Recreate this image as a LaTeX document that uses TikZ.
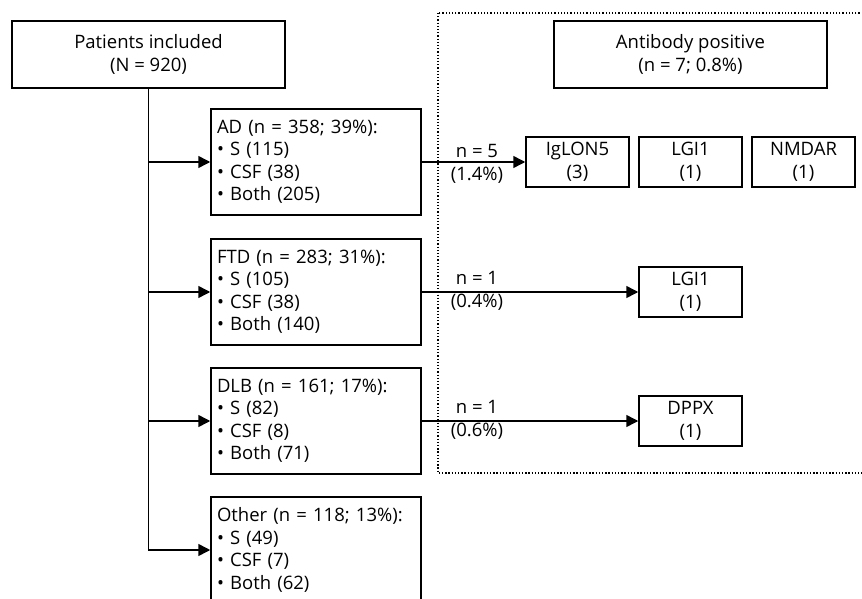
\documentclass[tikz,border=0pt]{standalone}
\usepackage{fontspec}
\setmainfont{Open Sans}
\usetikzlibrary{arrows.meta}
\begin{document}
\begin{tikzpicture}[x=1pt,y=-1pt,
  txt/.style={font={\fontsize{18.5}{22.5}\selectfont}},
  headbox/.style={draw, line width=1.5pt, txt, inner sep=0pt, minimum width=273pt, minimum height=67pt, align=center},
  catbox/.style={draw, line width=1.5pt, txt, inner xsep=6pt, inner ysep=0pt, text width=198pt, minimum height=106pt, align=left},
  abbox/.style={draw, line width=1.5pt, txt, inner sep=0pt, minimum width=103pt, minimum height=50pt, align=center},
  lab/.style={txt, align=center, inner sep=0pt},
  conn/.style={line width=1.5pt},
  arr/.style={conn, -{Triangle[length=12pt,width=12pt]}},
  region/.style={line width=1.1pt, dash pattern=on 1.3pt off 1.9pt}
]
\useasboundingbox (0,0) rectangle (862,599);
\fill[white] (0,0) rectangle (862,599);

% dotted region
\draw[region] (438,13) rectangle (880,473);

% header boxes
\node[headbox] (pat) at (148.5,54.5) {Patients included\\(N = 920)};
\node[headbox] (abp) at (690.5,54.5) {Antibody positive\\(n = 7; 0.8\%)};

% category boxes
\node[catbox] (ad) at (316,162) {AD (n = 358; 39\%):\\\textbullet\ S (115)\\\textbullet\ CSF (38)\\\textbullet\ Both (205)};
\node[catbox] (ftd) at (316,292) {FTD (n = 283; 31\%):\\\textbullet\ S (105)\\\textbullet\ CSF (38)\\\textbullet\ Both (140)};
\node[catbox] (dlb) at (316,421) {DLB (n = 161; 17\%):\\\textbullet\ S (82)\\\textbullet\ CSF (8)\\\textbullet\ Both (71)};
\node[catbox] (oth) at (316,550) {Other (n = 118; 13\%):\\\textbullet\ S (49)\\\textbullet\ CSF (7)\\\textbullet\ Both (62)};

% antibody boxes
\node[abbox] (iglon) at (577.5,162) {IgLON5\\(3)};
\node[abbox] (lgia) at (690.5,162) {LGI1\\(1)};
\node[abbox] (nmdar) at (803.5,162) {NMDAR\\(1)};
\node[abbox] (lgib) at (690.5,292) {LGI1\\(1)};
\node[abbox] (dppx) at (690.5,421) {DPPX\\(1)};

% trunk and branches
\draw[arr] (pat.south) |- (ad.west);
\draw[arr] (pat.south) |- (ftd.west);
\draw[arr] (pat.south) |- (dlb.west);
\draw[arr] (pat.south) |- (oth.west);

% to antibody boxes
\draw[arr] (ad.east) -- (iglon.west);
\draw[arr] (ftd.east) -- (lgib.west);
\draw[arr] (dlb.east) -- (dppx.west);

% labels
\node[lab] (l1) at (477,164) {n = 5\\(1.4\%)};
\node[lab] (l2) at (477,291) {n = 1\\(0.4\%)};
\node[lab] (l3) at (477,420) {n = 1\\(0.6\%)};
\end{tikzpicture}
\end{document}
